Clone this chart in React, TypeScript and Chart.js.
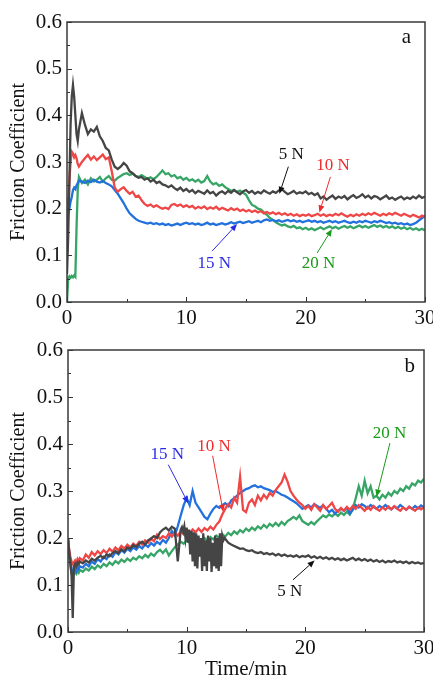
import React, { useEffect, useRef } from "react";
import { Chart, registerables } from "chart.js";

Chart.register(...registerables);

const FONT = "'Liberation Serif', 'Times New Roman', serif";

const TIME = [0, 0.1, 0.2, 0.3, 0.4, 0.5, 0.6, 0.7, 0.8, 0.9, 1,
  1.25, 1.5, 1.75, 2, 2.25, 2.5, 2.75, 3, 3.25, 3.5, 3.75, 4, 4.25, 4.5, 4.75, 5,
  5.25, 5.5, 5.75, 6, 6.25, 6.5, 6.75, 7, 7.25, 7.5, 7.75, 8, 8.25, 8.5, 8.75, 9,
  9.25, 9.5, 9.75, 10, 10.25, 10.5, 10.75, 11, 11.25, 11.5, 11.75, 12, 12.25, 12.5, 12.75, 13,
  13.25, 13.5, 13.75, 14, 14.25, 14.5, 14.75, 15, 15.25, 15.5, 15.75, 16, 16.25, 16.5, 16.75, 17,
  17.25, 17.5, 17.75, 18, 18.25, 18.5, 18.75, 19, 19.25, 19.5, 19.75, 20, 20.25, 20.5, 20.75, 21,
  21.25, 21.5, 21.75, 22, 22.25, 22.5, 22.75, 23, 23.25, 23.5, 23.75, 24, 24.25, 24.5, 24.75, 25,
  25.25, 25.5, 25.75, 26, 26.25, 26.5, 26.75, 27, 27.25, 27.5, 27.75, 28, 28.25, 28.5, 28.75, 29,
  29.25, 29.5, 29.75, 30];

// finer time grid for the 5 N run of panel b (dense oscillation near 10-13 min)
const TIME_B5 = [0, 0.1, 0.2, 0.3, 0.4, 0.5, 0.6, 0.7, 0.8, 0.9, 1,
  1.25, 1.5, 1.75, 2, 2.25, 2.5, 2.75, 3, 3.25, 3.5, 3.75, 4, 4.25, 4.5, 4.75, 5,
  5.25, 5.5, 5.75, 6, 6.25, 6.5, 6.75, 7, 7.25, 7.5, 7.75, 8, 8.25, 8.5, 8.75, 9,
  9.25, 9.5,
  9.6, 9.7, 9.8, 9.9, 10, 10.1, 10.2, 10.3, 10.4, 10.5,
  10.6, 10.7, 10.8, 10.9, 11, 11.1, 11.2, 11.3, 11.4, 11.5,
  11.6, 11.7, 11.8, 11.9, 12, 12.1, 12.2, 12.3, 12.4, 12.5,
  12.6, 12.7, 12.8, 12.9, 13, 13.1, 13.2,
  13.5, 13.75, 14, 14.25, 14.5, 14.75, 15, 15.25, 15.5, 15.75, 16, 16.25, 16.5, 16.75, 17,
  17.25, 17.5, 17.75, 18, 18.25, 18.5, 18.75, 19, 19.25, 19.5, 19.75, 20, 20.25, 20.5, 20.75, 21,
  21.25, 21.5, 21.75, 22, 22.25, 22.5, 22.75, 23, 23.25, 23.5, 23.75, 24, 24.25, 24.5, 24.75, 25,
  25.25, 25.5, 25.75, 26, 26.25, 26.5, 26.75, 27, 27.25, 27.5, 27.75, 28, 28.25, 28.5, 28.75, 29,
  29.25, 29.5, 29.75, 30];

// Panel a
const A_5N = [0.06, 0.14, 0.26, 0.38, 0.44, 0.465, 0.44, 0.40, 0.36, 0.345, 0.37,
  0.405, 0.38, 0.36, 0.37, 0.365, 0.375, 0.355, 0.345,
  0.33, 0.325, 0.305, 0.29, 0.285, 0.29, 0.298, 0.292,
  0.28, 0.276, 0.27, 0.266, 0.268, 0.262, 0.265, 0.258,
  0.262, 0.255, 0.258, 0.252, 0.25, 0.246, 0.25, 0.244,
  0.24, 0.245, 0.238, 0.242, 0.236, 0.24, 0.233, 0.238,
  0.235, 0.232, 0.239, 0.233, 0.236, 0.228, 0.234, 0.237,
  0.232, 0.238, 0.234, 0.24, 0.235, 0.231, 0.237, 0.24,
  0.234, 0.238, 0.232, 0.236, 0.233, 0.239, 0.235, 0.232,
  0.237, 0.234, 0.239, 0.242, 0.236, 0.231, 0.234, 0.238,
  0.232, 0.235, 0.233, 0.237, 0.231, 0.234, 0.229, 0.233,
  0.222, 0.226, 0.219, 0.224, 0.228, 0.221, 0.226, 0.223,
  0.227, 0.22, 0.225, 0.229, 0.223, 0.226, 0.231, 0.224,
  0.228, 0.222, 0.227, 0.225, 0.22, 0.224, 0.228, 0.221,
  0.224, 0.219, 0.223, 0.226, 0.22, 0.224, 0.221, 0.226,
  0.222, 0.228, 0.223, 0.226];
const A_10N = [0.1, 0.2, 0.26, 0.3, 0.322, 0.318, 0.31, 0.315, 0.308, 0.296, 0.29,
  0.30, 0.308, 0.315, 0.305, 0.312, 0.304, 0.31, 0.316,
  0.306, 0.31, 0.28, 0.245, 0.236, 0.242, 0.246, 0.238,
  0.232, 0.236, 0.226, 0.228, 0.218, 0.21, 0.206, 0.209,
  0.204, 0.207, 0.203, 0.2, 0.202, 0.199, 0.208, 0.21,
  0.206, 0.209, 0.204, 0.207, 0.203, 0.206, 0.2, 0.204,
  0.201, 0.205, 0.199, 0.203, 0.2, 0.204, 0.198, 0.202,
  0.199, 0.196, 0.201, 0.197, 0.2, 0.195, 0.198, 0.194,
  0.197, 0.193, 0.196, 0.192, 0.195, 0.19, 0.193, 0.189,
  0.192, 0.188, 0.191, 0.187, 0.19, 0.186, 0.189, 0.185,
  0.188, 0.184, 0.187, 0.185, 0.188, 0.184, 0.186, 0.189,
  0.185, 0.188, 0.184, 0.187, 0.185, 0.189, 0.186, 0.19,
  0.186, 0.183, 0.187, 0.184, 0.188, 0.185, 0.189, 0.186,
  0.19, 0.187, 0.191, 0.188, 0.185, 0.189, 0.186, 0.19,
  0.187, 0.191, 0.188, 0.185, 0.189, 0.186, 0.183, 0.187,
  0.184, 0.181, 0.185, 0.182];
const A_15N = [0.15, 0.21, 0.2, 0.215, 0.225, 0.24, 0.245, 0.242, 0.25, 0.255, 0.26,
  0.258, 0.255, 0.26, 0.257, 0.262, 0.258, 0.256, 0.259,
  0.255, 0.252, 0.248, 0.24, 0.232, 0.222, 0.212, 0.2,
  0.19, 0.184, 0.178, 0.174, 0.172, 0.17, 0.168, 0.17,
  0.167, 0.169, 0.166, 0.168, 0.165, 0.167, 0.164, 0.166,
  0.168, 0.165, 0.168, 0.17, 0.167, 0.169, 0.166, 0.168,
  0.165, 0.167, 0.17, 0.166, 0.168, 0.165, 0.167, 0.169,
  0.166, 0.168, 0.171, 0.168, 0.17, 0.172, 0.169, 0.171,
  0.173, 0.17, 0.172, 0.174, 0.171, 0.175, 0.177, 0.174,
  0.176, 0.173, 0.175, 0.172, 0.174, 0.176, 0.173, 0.175,
  0.172, 0.174, 0.171, 0.173, 0.175, 0.172, 0.174, 0.171,
  0.173, 0.17, 0.172, 0.174, 0.171, 0.173, 0.17, 0.172,
  0.174, 0.171, 0.169, 0.172, 0.17, 0.173, 0.171, 0.174,
  0.172, 0.17, 0.173, 0.171, 0.174, 0.172, 0.169, 0.171,
  0.168, 0.17, 0.167, 0.169, 0.166, 0.168, 0.165, 0.167,
  0.17, 0.175, 0.18, 0.185];
const A_20N = [0, 0.05, 0.055, 0.052, 0.056, 0.053, 0.057, 0.054, 0.16, 0.24, 0.268,
  0.255, 0.262, 0.252, 0.265, 0.258, 0.262, 0.268, 0.258,
  0.265, 0.27, 0.262, 0.26, 0.266, 0.27, 0.274, 0.276,
  0.272, 0.275, 0.27, 0.268, 0.272, 0.268, 0.264, 0.267,
  0.263, 0.268, 0.275, 0.282, 0.274, 0.276, 0.269, 0.272,
  0.265, 0.268, 0.262, 0.266, 0.26, 0.263, 0.258, 0.262,
  0.256, 0.259, 0.27, 0.258, 0.252, 0.255, 0.249, 0.252,
  0.246, 0.242, 0.238, 0.24, 0.236, 0.239, 0.234, 0.23,
  0.218, 0.208, 0.205, 0.2, 0.198, 0.192, 0.187, 0.18,
  0.176, 0.171, 0.167, 0.164, 0.166, 0.162, 0.16, 0.163,
  0.158, 0.16, 0.156, 0.159, 0.155, 0.158, 0.154, 0.157,
  0.16, 0.156, 0.159, 0.162, 0.158, 0.161, 0.157, 0.16,
  0.163, 0.159, 0.162, 0.158, 0.161, 0.164, 0.16, 0.163,
  0.159, 0.162, 0.165, 0.161, 0.164, 0.16, 0.163, 0.159,
  0.162, 0.158, 0.161, 0.157, 0.16, 0.156, 0.159, 0.155,
  0.158, 0.154, 0.157, 0.153];

// Panel b
const B_5N = [0.2, 0.17, 0.15, 0.12, 0.03, 0.14, 0.145, 0.14, 0.148, 0.144, 0.15,
  0.146, 0.152, 0.148, 0.156, 0.152, 0.158, 0.162, 0.157,
  0.165, 0.161, 0.168, 0.172, 0.168, 0.176, 0.172, 0.18,
  0.177, 0.185, 0.181, 0.188, 0.192, 0.186, 0.195, 0.199,
  0.204, 0.2, 0.212, 0.218, 0.222, 0.216, 0.224, 0.22,
  0.15, 0.218,
  0.223, 0.214, 0.225, 0.2, 0.222, 0.19, 0.218, 0.165, 0.215, 0.15,
  0.212, 0.14, 0.21, 0.135, 0.205, 0.16, 0.2, 0.13, 0.21, 0.14,
  0.195, 0.13, 0.205, 0.15, 0.2, 0.128, 0.19, 0.14, 0.205, 0.135,
  0.2, 0.13, 0.21, 0.14, 0.205, 0.195, 0.2,
  0.19, 0.186, 0.183,
  0.18, 0.177, 0.178, 0.174,
  0.172, 0.174, 0.17, 0.168, 0.17, 0.166, 0.168, 0.165,
  0.167, 0.163, 0.166, 0.162, 0.165, 0.161, 0.163, 0.16,
  0.163, 0.159, 0.162, 0.16, 0.163, 0.158, 0.161, 0.157,
  0.16, 0.156, 0.159, 0.155, 0.158, 0.154, 0.157, 0.153,
  0.156, 0.152, 0.155, 0.158, 0.153, 0.156, 0.152, 0.155,
  0.151, 0.154, 0.15, 0.153, 0.149, 0.152, 0.148, 0.151,
  0.149, 0.152, 0.148, 0.15, 0.147, 0.15, 0.146, 0.149,
  0.146, 0.148, 0.145, 0.147];
const B_10N = [0.2, 0.175, 0.16, 0.15, 0.145, 0.148, 0.152, 0.146, 0.155, 0.15, 0.157,
  0.152, 0.165, 0.158, 0.17, 0.163, 0.172, 0.166, 0.174,
  0.168, 0.177, 0.171, 0.18, 0.174, 0.183, 0.178, 0.186,
  0.18, 0.188, 0.183, 0.192, 0.186, 0.195, 0.19, 0.198,
  0.193, 0.207, 0.198, 0.204, 0.2, 0.21, 0.203, 0.212,
  0.205, 0.214, 0.208, 0.216, 0.21, 0.218, 0.212, 0.22,
  0.213, 0.221, 0.216, 0.224, 0.218, 0.228, 0.235, 0.25,
  0.262, 0.272, 0.265, 0.285, 0.275, 0.33, 0.26, 0.255,
  0.275, 0.282, 0.27, 0.29, 0.28, 0.292, 0.284, 0.296,
  0.29, 0.302, 0.31, 0.318, 0.335, 0.32, 0.3, 0.29,
  0.282, 0.275, 0.27, 0.262, 0.268, 0.26, 0.272, 0.265,
  0.258, 0.27, 0.262, 0.268, 0.275, 0.262, 0.256, 0.264,
  0.258, 0.266, 0.26, 0.268, 0.262, 0.27, 0.264, 0.258,
  0.266, 0.26, 0.268, 0.262, 0.258, 0.265, 0.26, 0.267,
  0.261, 0.268, 0.262, 0.258, 0.265, 0.26, 0.267, 0.262,
  0.258, 0.265, 0.261, 0.266];
const B_15N = [0.2, 0.17, 0.15, 0.135, 0.128, 0.132, 0.136, 0.13, 0.138, 0.134, 0.14,
  0.137, 0.145, 0.14, 0.15, 0.145, 0.155, 0.15, 0.16,
  0.155, 0.165, 0.16, 0.17, 0.165, 0.174, 0.169, 0.177,
  0.172, 0.18, 0.175, 0.183, 0.178, 0.186, 0.181, 0.189,
  0.184, 0.192, 0.187, 0.196, 0.19, 0.2, 0.215, 0.205,
  0.225, 0.248, 0.27, 0.285, 0.27, 0.3, 0.275, 0.265,
  0.255, 0.245, 0.24, 0.252, 0.262, 0.268, 0.264, 0.27,
  0.274, 0.268, 0.28, 0.285, 0.29, 0.296, 0.3, 0.304,
  0.306, 0.31, 0.312, 0.308, 0.31, 0.306, 0.304, 0.302,
  0.298, 0.3, 0.296, 0.292, 0.29, 0.286, 0.282, 0.278,
  0.274, 0.268, 0.262, 0.266, 0.27, 0.265, 0.272, 0.268,
  0.264, 0.27, 0.262, 0.255, 0.26, 0.252, 0.258, 0.262,
  0.258, 0.265, 0.252, 0.26, 0.27, 0.265, 0.272, 0.268,
  0.263, 0.27, 0.266, 0.262, 0.268, 0.264, 0.27, 0.265,
  0.261, 0.267, 0.263, 0.27, 0.265, 0.26, 0.266, 0.262,
  0.268, 0.263, 0.269, 0.265];
const B_20N = [0.19, 0.16, 0.14, 0.125, 0.12, 0.124, 0.128, 0.124, 0.13, 0.126, 0.132,
  0.128, 0.135, 0.131, 0.139, 0.134, 0.142, 0.137, 0.145,
  0.14, 0.148, 0.143, 0.151, 0.146, 0.154, 0.149, 0.156,
  0.151, 0.158, 0.154, 0.161, 0.157, 0.164, 0.159, 0.167,
  0.162, 0.17, 0.175, 0.168, 0.176, 0.163, 0.172, 0.18,
  0.186, 0.192, 0.188, 0.195, 0.19, 0.197, 0.192, 0.198,
  0.193, 0.2, 0.195, 0.202, 0.197, 0.205, 0.2, 0.208,
  0.203, 0.211, 0.206, 0.214, 0.209, 0.217, 0.212, 0.22,
  0.215, 0.222, 0.217, 0.225, 0.22, 0.228, 0.222, 0.23,
  0.225, 0.232, 0.226, 0.234, 0.228, 0.236, 0.24, 0.245,
  0.24, 0.248, 0.236, 0.232, 0.228, 0.234, 0.229, 0.236,
  0.242, 0.248, 0.244, 0.25, 0.246, 0.252, 0.247, 0.254,
  0.249, 0.256, 0.25, 0.262, 0.285, 0.31, 0.29, 0.322,
  0.295, 0.31, 0.286, 0.29, 0.282, 0.292, 0.286, 0.296,
  0.29, 0.3, 0.295, 0.305, 0.3, 0.31, 0.305, 0.316,
  0.312, 0.322, 0.318, 0.326];

const LOAD_LABELS = ["5 N", "10 N", "15 N", "20 N"];
const LINE_COLORS = ["#454545", "#ef4646", "#2271dd", "#37a565"];
const NOTE_COLORS = ["#111111", "#f02a2a", "#2a2ae6", "#1a9a1a"];

type Note = { i: number; tx: number; ty: number; x0: number; y0: number; x1: number; y1: number };

// positions in data units (time, friction coefficient)
const NOTES_A: Note[] = [
  { i: 0, tx: 18.8, ty: 0.315, x0: 18.55, y0: 0.29, x1: 17.8, y1: 0.232 },
  { i: 1, tx: 22.3, ty: 0.292, x0: 22.07, y0: 0.268, x1: 21.15, y1: 0.192 },
  { i: 2, tx: 12.35, ty: 0.082, x0: 12.16, y0: 0.109, x1: 14.25, y1: 0.167 },
  { i: 3, tx: 21.07, ty: 0.082, x0: 20.96, y0: 0.105, x1: 22.2, y1: 0.156 },
];
const NOTES_B: Note[] = [
  { i: 2, tx: 8.37, ty: 0.377, x0: 8.45, y0: 0.356, x1: 10.13, y1: 0.274 },
  { i: 1, tx: 12.3, ty: 0.394, x0: 12.19, y0: 0.375, x1: 13.08, y1: 0.256 },
  { i: 3, tx: 27.1, ty: 0.423, x0: 27.13, y0: 0.402, x1: 26.0, y1: 0.288 },
  { i: 0, tx: 18.68, ty: 0.086, x0: 18.96, y0: 0.111, x1: 20.78, y1: 0.152 },
];

type Series = { t: number[]; v: number[] };

type PanelProps = {
  top: number;
  height: number;
  padTop: number;
  padRight: number;
  yWidth: number;
  xHeight: number;
  series: Series[];
  letter: string;
  letterPos: [number, number];
  notes: Note[];
  xTitle: string | null;
};

function Panel(props: PanelProps) {
  const ref = useRef<HTMLCanvasElement | null>(null);
  useEffect(() => {
    const canvas = ref.current;
    if (!canvas) return;
    const decor = {
      id: "decor",
      afterDraw(chart: any) {
        const ctx = chart.ctx as CanvasRenderingContext2D;
        const { left, right, top, bottom } = chart.chartArea;
        const xs = chart.scales.x;
        const ys = chart.scales.y;
        ctx.save();
        ctx.strokeStyle = "#333";
        ctx.lineWidth = 1;
        ctx.beginPath();
        for (let k = 0; k <= 12; k++) {
          const py = Math.round(ys.getPixelForValue(k * 0.05)) + 0.5;
          const len = k % 2 === 0 ? 5 : 3;
          ctx.moveTo(left, py);
          ctx.lineTo(left + len, py);
        }
        for (let k = 0; k <= 6; k++) {
          const px = Math.round(xs.getPixelForValue(k * 5)) + 0.5;
          const len = k % 2 === 0 ? 5 : 3;
          ctx.moveTo(px, bottom);
          ctx.lineTo(px, bottom - len);
        }
        ctx.stroke();
        ctx.lineWidth = 1.5;
        ctx.strokeStyle = "#3a3a3a";
        ctx.strokeRect(left, top, right - left, bottom - top);

        ctx.fillStyle = "#111";
        ctx.font = `21px ${FONT}`;
        ctx.textAlign = "center";
        ctx.textBaseline = "middle";
        ctx.fillText(props.letter, xs.getPixelForValue(props.letterPos[0]), ys.getPixelForValue(props.letterPos[1]));

        ctx.font = `17px ${FONT}`;
        for (const n of props.notes) {
          const col = NOTE_COLORS[n.i];
          ctx.fillStyle = col;
          ctx.strokeStyle = col;
          ctx.fillText(LOAD_LABELS[n.i], xs.getPixelForValue(n.tx), ys.getPixelForValue(n.ty));
          const ax = xs.getPixelForValue(n.x0);
          const ay = ys.getPixelForValue(n.y0);
          const bx = xs.getPixelForValue(n.x1);
          const by = ys.getPixelForValue(n.y1);
          const ang = Math.atan2(by - ay, bx - ax);
          const hl = 7;
          const hw = 3;
          const cx = bx - hl * Math.cos(ang);
          const cy = by - hl * Math.sin(ang);
          ctx.lineWidth = 1;
          ctx.beginPath();
          ctx.moveTo(ax, ay);
          ctx.lineTo(cx, cy);
          ctx.stroke();
          ctx.beginPath();
          ctx.moveTo(bx, by);
          ctx.lineTo(cx + hw * Math.sin(ang), cy - hw * Math.cos(ang));
          ctx.lineTo(cx - hw * Math.sin(ang), cy + hw * Math.cos(ang));
          ctx.closePath();
          ctx.fill();
        }
        ctx.restore();
      },
    };

    const chart = new Chart(canvas, {
      type: "line",
      data: {
        datasets: props.series.map((s, i) => ({
          label: LOAD_LABELS[i],
          data: s.t.map((t, j) => ({ x: t, y: s.v[j] })),
          borderColor: LINE_COLORS[i],
          backgroundColor: LINE_COLORS[i],
          borderWidth: 2.3,
          pointRadius: 0,
          tension: 0,
          fill: false,
        })),
      },
      options: {
        responsive: false,
        animation: false,
        devicePixelRatio: 1,
        layout: { padding: { left: 0, right: props.padRight, top: props.padTop, bottom: 0 } },
        plugins: { legend: { display: false }, tooltip: { enabled: false } },
        scales: {
          x: {
            type: "linear",
            min: 0,
            max: 30,
            grid: { display: false, drawTicks: false },
            border: { display: false },
            ticks: {
              stepSize: 10,
              padding: 4,
              color: "#111",
              font: { family: FONT, size: 21 },
              callback: (v: any) => String(v),
            },
            title: props.xTitle
              ? {
                  display: true,
                  text: props.xTitle,
                  color: "#111",
                  font: { family: FONT, size: 21, lineHeight: 1 },
                  padding: { top: 0, bottom: 0 },
                }
              : { display: false },
            afterFit: (s: any) => {
              s.height = props.xHeight;
              s.paddingLeft = 0;
              s.paddingRight = 0;
            },
          },
          y: {
            min: 0,
            max: 0.6,
            grid: { display: false, drawTicks: false },
            border: { display: false },
            ticks: {
              stepSize: 0.1,
              padding: 5,
              color: "#111",
              font: { family: FONT, size: 21 },
              callback: (v: any) => Number(v).toFixed(1),
            },
            title: {
              display: true,
              text: "Friction Coefficient",
              color: "#111",
              font: { family: FONT, size: 20 },
              padding: { top: 7, bottom: 0 },
            },
            afterFit: (s: any) => {
              s.width = props.yWidth;
              s.paddingTop = 0;
              s.paddingBottom = 0;
            },
          },
        },
      },
      plugins: [decor],
    } as any);
    return () => chart.destroy();
  }, []);
  return (
    <canvas
      ref={ref}
      width={433}
      height={props.height}
      style={{ position: "absolute", left: 0, top: props.top, width: 433, height: props.height, display: "block" }}
    />
  );
}

export default function App() {
  return (
    <div style={{ position: "absolute", left: 0, top: 0, width: 433, height: 680, background: "#fff", overflow: "hidden" }}>
      <Panel
        top={0}
        height={330}
        padTop={22}
        padRight={8}
        yWidth={67}
        xHeight={28}
        series={[
          { t: TIME, v: A_5N },
          { t: TIME, v: A_10N },
          { t: TIME, v: A_15N },
          { t: TIME, v: A_20N },
        ]}
        letter="a"
        letterPos={[28.44, 0.566]}
        notes={NOTES_A}
        xTitle={null}
      />
      <Panel
        top={330}
        height={350}
        padTop={20}
        padRight={9}
        yWidth={68}
        xHeight={48}
        series={[
          { t: TIME_B5, v: B_5N },
          { t: TIME, v: B_10N },
          { t: TIME, v: B_15N },
          { t: TIME, v: B_20N },
        ]}
        letter="b"
        letterPos={[28.8, 0.564]}
        notes={NOTES_B}
        xTitle="Time/min"
      />
    </div>
  );
}
